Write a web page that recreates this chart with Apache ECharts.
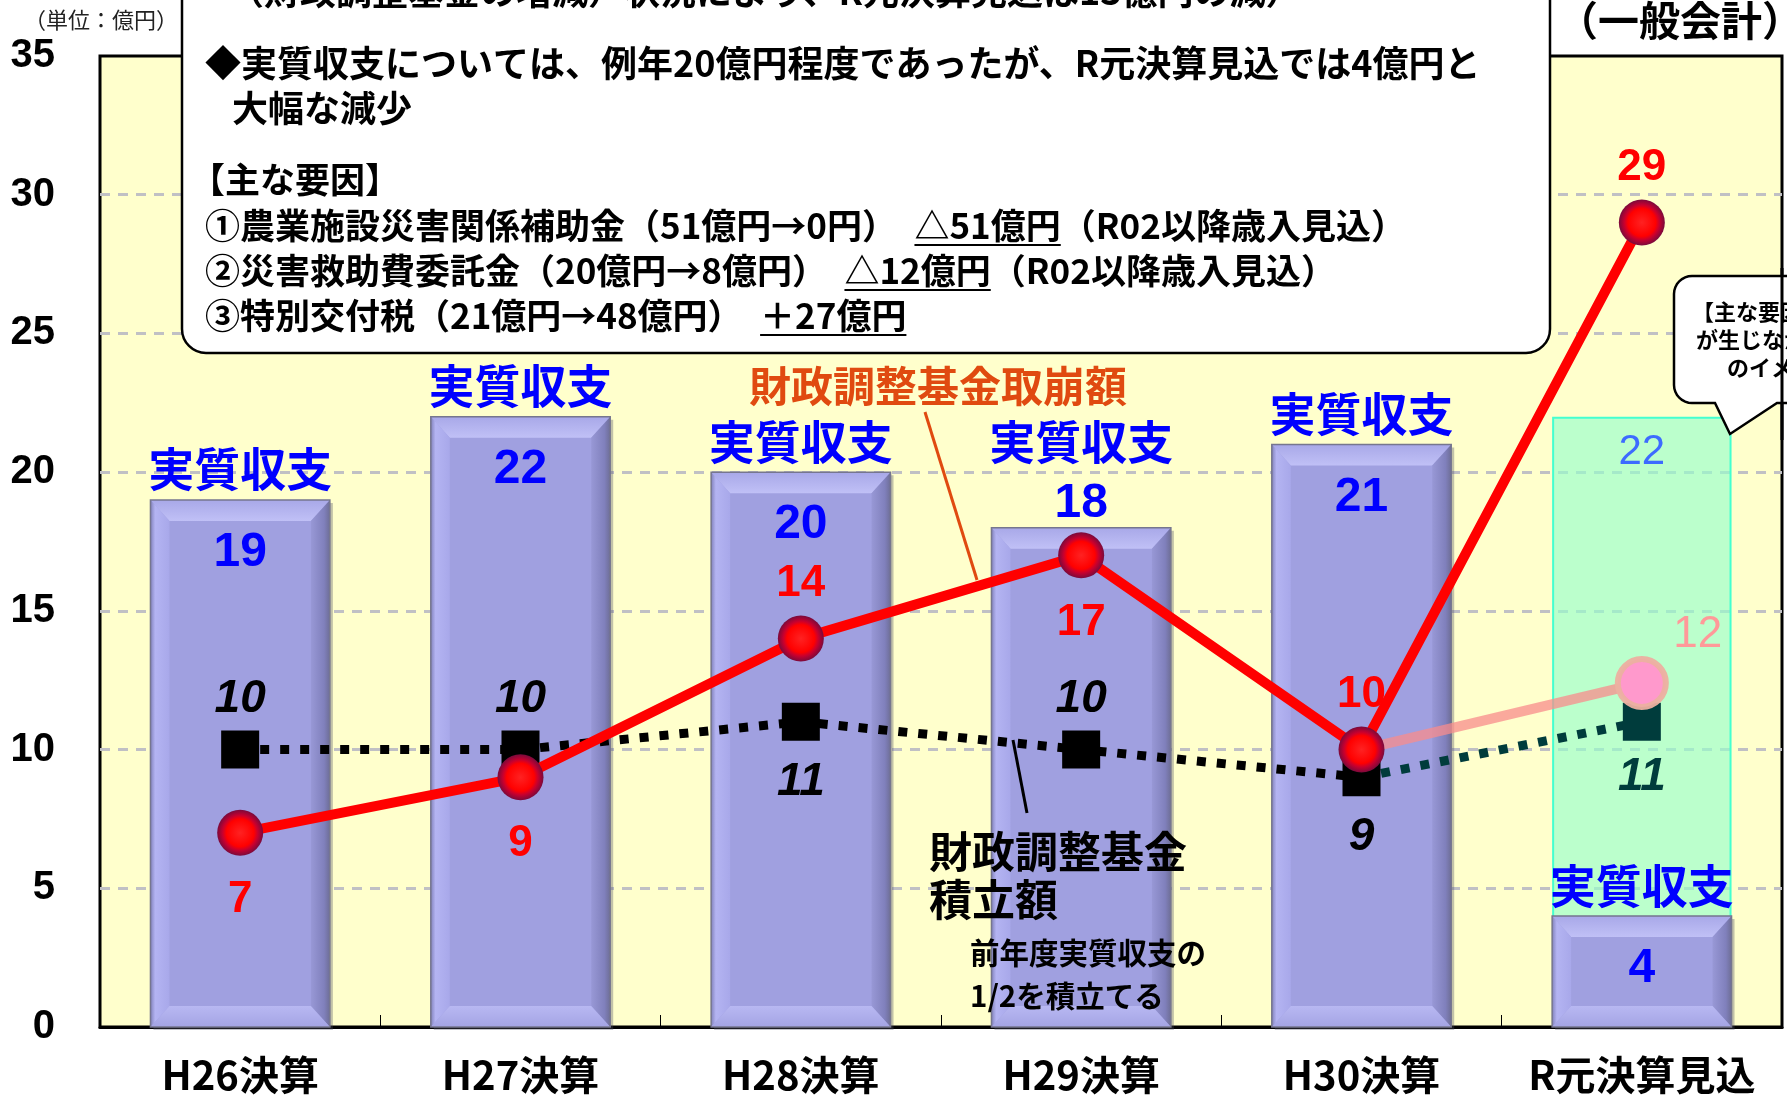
<!DOCTYPE html>
<html><head><meta charset="utf-8">
<script src="https://cdn.jsdelivr.net/npm/echarts@6/dist/echarts.min.js"></script>
<style>html,body{margin:0;padding:0;background:#fff}#c{width:1787px;height:1100px}</style>
</head><body><div id="c"></div>
<script>
// ---- data ----
const categories = ['H26決算', 'H27決算', 'H28決算', 'H29決算', 'H30決算', 'R元決算見込'];
const jisshitsuShushi = [19, 22, 20, 18, 21, 4];          // 実質収支
const torikuzushi = [7, 9, 14, 17, 10, 29];                // 財政調整基金取崩額
const tsumitate = [10, 10, 11, 10, 9, 11];                 // 財政調整基金積立額
const imageShushi = [null, null, null, null, null, 22];    // 主な要因が生じなかった場合の実質収支
const imageTorikuzushi = [null, null, null, null, 10, 12.4]; // 主な要因が生じなかった場合の取崩額
const yMin = 0, yMax = 35, yStep = 5;

// ---- layout config (not data) ----
const barValuePlacement = ['inside', 'inside', 'inside', 'above', 'inside', 'inside'];
const torikuzushiLabelPos = ['bottom', 'bottom', 'top', 'bottom', 'top', 'top'];
const tsumitateLabelPos = ['top', 'top', 'bottom', 'top', 'bottom', 'bottom'];

const JP = '"Noto Sans CJK JP", sans-serif';
const NUM = '"Liberation Sans", Arial, sans-serif';

const chart = echarts.init(document.getElementById('c'), null, {renderer: 'canvas', width: 1787, height: 1100});

function lg(x, y, x2, y2, stops) {
  return {type: 'linear', x: x, y: y, x2: x2, y2: y2, colorStops: stops, global: false};
}

function renderBar(params, api) {
  const i = api.value(0), v = api.value(1);
  const pTop = api.coord([i, v]);
  const pBase = api.coord([i, 0]);
  const w = api.size([1, 0])[0] * 0.64;
  const x0 = pTop[0] - w / 2, x1 = pTop[0] + w / 2, y0 = pTop[1], y1 = pBase[1];
  const h = y1 - y0;
  const d = Math.min(21, h / 3), s = Math.min(19, w / 4);
  const place = barValuePlacement[params.dataIndex];
  const children = [
    {type: 'rect', shape: {x: x0 + 3, y: y0 + 3, width: w, height: h}, style: {fill: 'rgba(80,80,100,0.35)'}},
    {type: 'rect', shape: {x: x0, y: y0, width: w, height: h}, style: {fill: '#A0A0E0'}},
    {type: 'polygon', shape: {points: [[x0, y0], [x1, y0], [x1 - s, y0 + d], [x0 + s, y0 + d]]},
      style: {fill: lg(0, 0, 0, 1, [{offset: 0, color: '#A8A8E8'}, {offset: 1, color: '#C0C0F6'}])}},
    {type: 'polygon', shape: {points: [[x0, y0], [x0 + s, y0 + d], [x0 + s, y1 - d], [x0, y1]]},
      style: {fill: lg(0, 0, 1, 0, [{offset: 0, color: '#8282BC'}, {offset: 0.25, color: '#B4B4F2'}, {offset: 1, color: '#A8A8EA'}])}},
    {type: 'polygon', shape: {points: [[x1, y0], [x1, y1], [x1 - s, y1 - d], [x1 - s, y0 + d]]},
      style: {fill: lg(0, 0, 1, 0, [{offset: 0, color: '#9898D6'}, {offset: 0.7, color: '#8080BC'}, {offset: 1, color: '#6E6E96'}])}},
    {type: 'polygon', shape: {points: [[x0, y1], [x0 + s, y1 - d], [x1 - s, y1 - d], [x1, y1]]},
      style: {fill: lg(0, 0, 0, 1, [{offset: 0, color: '#B8B8F2'}, {offset: 1, color: '#A4A4E4'}])}},
    {type: 'rect', shape: {x: x0, y: y0, width: w, height: h}, style: {fill: null, stroke: '#76768E', lineWidth: 1.5}},
    {type: 'text', style: {text: '実質収支', x: pTop[0], y: y0 - (place === 'above' ? 86 : 31),
      font: 'bold 46px ' + JP, fill: '#0000FF', align: 'center', verticalAlign: 'middle'}},
    {type: 'text', style: {text: String(v), x: pTop[0], y: place === 'above' ? y0 - 24 : y0 + 53,
      font: 'bold 48px ' + NUM, fill: '#0000FF', align: 'center', verticalAlign: 'middle'}}
  ];
  return {type: 'group', children: children};
}

const redBall = {type: 'radial', x: 0.5, y: 0.5, r: 0.5, global: false, colorStops: [
  {offset: 0, color: '#FF2222'}, {offset: 0.6, color: '#FF0000'}, {offset: 0.76, color: '#C8002E'}, {offset: 1, color: '#7A0A3C'}]};

const tsumitateBlack = tsumitate.map((v, i) => i <= 4 ? {value: v, label: {position: tsumitateLabelPos[i]}} : null);
const tsumitateTeal = tsumitate.map((v, i) => i === 4 ? {value: v, symbol: 'none', label: {show: false}} :
  (i === 5 ? {value: v, label: {position: tsumitateLabelPos[i]}} : null));
const imageLine = imageTorikuzushi.map((v, i) => v == null ? null :
  (i === 4 ? {value: v, symbol: 'none', label: {show: false}} : {value: v}));

// text measurement for underlines
const mctx = document.createElement('canvas').getContext('2d');
function tw(text, font) { mctx.font = font; return mctx.measureText(text).width; }

const boxFont = 'bold 35px ' + JP;
const boxFontL = 'bold 36px ' + JP;
function T(text, x, y, font, fill, align, z) {
  return {type: 'text', x: x, y: y, z: z || 110, silent: true,
    style: {text: text, font: font, fill: fill || '#000', align: align || 'left', verticalAlign: 'middle'}};
}
function L(x1, y1, x2, y2, color, width, z) {
  return {type: 'line', z: z || 110, silent: true, shape: {x1: x1, y1: y1, x2: x2, y2: y2}, style: {stroke: color, lineWidth: width}};
}

// speech bubble outline (rounded left corners)
function bubblePoints() {
  const pts = [];
  const L0 = 1674, T0 = 276, B0 = 403, R0 = 1840, r = 18;
  pts.push([R0, T0], [R0, B0], [1777, B0], [1730, 434], [1715, B0]);
  for (let k = 0; k <= 8; k++) { const a = Math.PI / 2 + k * Math.PI / 16; pts.push([L0 + r + r * Math.cos(a), B0 - r + r * Math.sin(a)]); }
  for (let k = 0; k <= 8; k++) { const a = Math.PI + k * Math.PI / 16; pts.push([L0 + r + r * Math.cos(a), T0 + r + r * Math.sin(a)]); }
  return pts;
}

const bx = 205;
const l4a = '①農業施設災害関係補助金（51億円→0円）　', l4b = '△51億円', l4c = '（R02以降歳入見込）';
const l5a = '②災害救助費委託金（20億円→8億円）　', l5b = '△12億円', l5c = '（R02以降歳入見込）';
const l6a = '③特別交付税（21億円→48億円）　', l6b = '＋27億円';
const u4x = bx + tw(l4a, boxFont), u4w = tw(l4b, boxFont);
const u5x = bx + tw(l5a, boxFont), u5w = tw(l5b, boxFont);
const u6x = bx + tw(l6a, boxFont), u6w = tw(l6b, boxFont);

const graphics = [
  {type: 'rect', z: 100, silent: true, shape: {x: 182, y: -30, width: 1368, height: 383, r: [0, 0, 24, 24]},
    style: {fill: '#FFFFFF', stroke: '#000', lineWidth: 2.5}},
  T('（財政調整基金の増減）状況により、R元決算見込は13億円の減）', 228, -9, boxFontL),
  T('◆実質収支については、例年20億円程度であったが、R元決算見込では4億円と', bx, 63, boxFontL),
  T('大幅な減少', 232, 108, boxFontL),
  T('【主な要因】', 190, 180, boxFont),
  T(l4a + l4b + l4c, bx, 226, boxFont),
  T(l5a + l5b + l5c, bx, 271, boxFont),
  T(l6a + l6b, bx, 316, boxFont),
  L(u4x, 245, u4x + u4w, 245, '#000', 2),
  L(u5x, 290, u5x + u5w, 290, '#000', 2),
  L(u6x, 335, u6x + u6w, 335, '#000', 2),
  T('（単位：億円）', 24, 20, '22px ' + JP, '#222'),
  T('（一般会計）', 1803, 20, 'bold 41px ' + JP, '#000', 'right', 90),
  {type: 'polygon', z: 100, silent: true, shape: {points: bubblePoints()},
    style: {fill: '#FFFFFF', stroke: '#000', lineWidth: 2.5}},
  L(1782, 268, 1782, 440, '#000', 3, 101),
  T('【主な要因】', 1692, 312, 'bold 22px ' + JP),
  T('が生じなかった場合', 1696, 340, 'bold 22px ' + JP),
  T('のイメージ', 1727, 368, 'bold 22px ' + JP),
  T('財政調整基金取崩額', 938, 386, 'bold 42px ' + JP, '#E04A10', 'center'),
  L(925, 412, 977, 580, '#E04A10', 3),
  T('財政調整基金', 929, 852, 'bold 43px ' + JP),
  T('積立額', 929, 900, 'bold 43px ' + JP),
  L(1013, 740, 1027, 813, '#000', 3),
  T('前年度実質収支の', 970, 953, 'bold 29.5px ' + JP),
  T('1/2を積立てる', 970, 996, 'bold 29.5px ' + JP)
];

const option = {
  animation: false,
  backgroundColor: '#FFFFFF',
  grid: {left: 100, right: 5, top: 56, bottom: 73, show: true, backgroundColor: '#FFFFCC', borderColor: '#000', borderWidth: 3},
  xAxis: {
    type: 'category', data: categories,
    axisLine: {show: true, lineStyle: {color: '#000', width: 3}},
    axisTick: {show: true, inside: true, length: 12, lineStyle: {color: '#000', width: 1}},
    axisLabel: {interval: 0, fontFamily: JP, fontSize: 40, fontWeight: 'bold', color: '#000', margin: 28}
  },
  yAxis: {
    type: 'value', min: yMin, max: yMax, interval: yStep,
    axisLine: {show: false}, axisTick: {show: false},
    axisLabel: {fontFamily: NUM, fontSize: 40, fontWeight: 'bold', color: '#000', margin: 45},
    splitLine: {show: true, showMaxLine: false, showMinLine: false, lineStyle: {color: '#C0C0C4', width: 3, type: [10, 8]}}
  },
  series: [
    {
      name: '主な要因が生じなかった場合の実質収支', type: 'bar', data: imageShushi, barWidth: '64%', z: 1,
      itemStyle: {color: 'rgba(150,255,205,0.65)', borderColor: '#44FFD0', borderWidth: 2},
      label: {show: true, position: 'insideTop', distance: 15, color: '#3D6BFF', fontFamily: NUM, fontSize: 42}
    },
    {
      name: '実質収支', type: 'custom', renderItem: renderBar, clip: false, z: 2,
      encode: {x: 0, y: 1},
      data: jisshitsuShushi.map((v, i) => [i, v])
    },
    {
      name: '財政調整基金積立額', type: 'line', data: tsumitateBlack, z: 3,
      symbol: 'rect', symbolSize: 38,
      lineStyle: {color: '#000', width: 9, type: [9, 11], cap: 'butt'},
      itemStyle: {color: '#000'},
      label: {show: true, distance: 13, offset: [0, 5], color: '#000', fontFamily: NUM, fontSize: 46, fontWeight: 'bold', fontStyle: 'italic'}
    },
    {
      name: '財政調整基金積立額(R元)', type: 'line', data: tsumitateTeal, z: 3,
      symbol: 'rect', symbolSize: 38,
      lineStyle: {color: '#003C3C', width: 9, type: [9, 11], cap: 'butt'},
      itemStyle: {color: '#003C3C'},
      label: {show: true, distance: 10, offset: [0, 3], color: '#003C3C', fontFamily: NUM, fontSize: 46, fontWeight: 'bold', fontStyle: 'italic'}
    },
    {
      name: '主な要因が生じなかった場合の取崩額', type: 'line', data: imageLine, z: 4,
      symbol: 'circle', symbolSize: 48,
      lineStyle: {color: 'rgba(248,140,140,0.75)', width: 10},
      itemStyle: {color: '#FF99CC', borderColor: 'rgba(236,176,160,0.95)', borderWidth: 6},
      label: {show: true, position: 'top', distance: 10, offset: [56, 11], color: '#FF9999', fontFamily: NUM, fontSize: 44,
        formatter: function (p) { return String(Math.round(p.value)); }}
    },
    {
      name: '財政調整基金取崩額', type: 'line', z: 5,
      data: torikuzushi.map((v, i) => ({value: v, label: {position: torikuzushiLabelPos[i]}})),
      symbol: 'circle', symbolSize: 46,
      lineStyle: {color: '#FF0000', width: 10},
      itemStyle: {color: redBall, borderWidth: 0},
      label: {show: true, distance: 16, offset: [0, 6], color: '#FF0000', fontFamily: NUM, fontSize: 44, fontWeight: 'bold'}
    }
  ],
  graphic: graphics
};
chart.setOption(option);
</script>
</body></html>
